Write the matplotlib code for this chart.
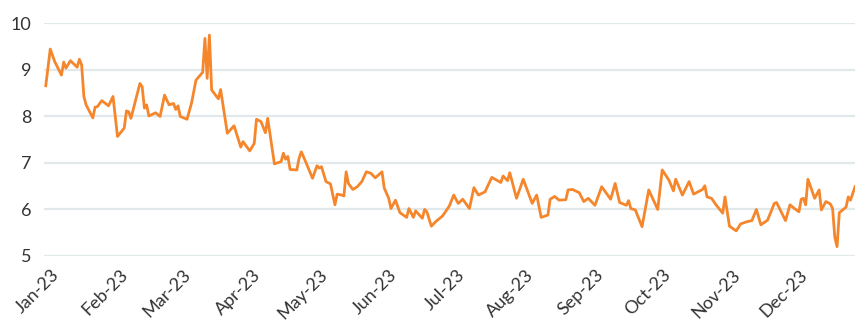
import matplotlib
matplotlib.use("Agg")
import matplotlib.pyplot as plt
import matplotlib.dates as mdates
import matplotlib.transforms as mtransforms
import pandas as pd

dates = [
    "2023-01-02", "2023-01-04", "2023-01-06", "2023-01-09", "2023-01-10", "2023-01-11",
    "2023-01-13", "2023-01-16", "2023-01-17", "2023-01-18", "2023-01-19", "2023-01-20",
    "2023-01-23", "2023-01-24", "2023-01-25", "2023-01-27", "2023-01-30", "2023-02-01",
    "2023-02-03", "2023-02-06", "2023-02-07", "2023-02-08", "2023-02-09", "2023-02-13",
    "2023-02-14", "2023-02-15", "2023-02-16", "2023-02-17", "2023-02-20", "2023-02-22",
    "2023-02-24", "2023-02-26", "2023-02-28", "2023-03-01", "2023-03-02", "2023-03-03",
    "2023-03-06", "2023-03-08", "2023-03-10", "2023-03-13", "2023-03-14", "2023-03-15",
    "2023-03-16", "2023-03-17", "2023-03-20", "2023-03-21", "2023-03-24", "2023-03-27",
    "2023-03-30", "2023-03-31", "2023-04-03", "2023-04-05", "2023-04-06", "2023-04-08",
    "2023-04-10", "2023-04-11", "2023-04-14", "2023-04-17", "2023-04-18", "2023-04-19",
    "2023-04-20", "2023-04-21", "2023-04-24", "2023-04-25", "2023-04-26", "2023-04-28",
    "2023-05-01", "2023-05-03", "2023-05-04", "2023-05-05", "2023-05-07", "2023-05-09",
    "2023-05-11", "2023-05-12", "2023-05-14", "2023-05-15", "2023-05-16", "2023-05-17",
    "2023-05-19", "2023-05-21", "2023-05-23", "2023-05-25", "2023-05-27", "2023-05-29",
    "2023-06-01", "2023-06-02", "2023-06-04", "2023-06-05", "2023-06-07", "2023-06-09",
    "2023-06-12", "2023-06-13", "2023-06-15", "2023-06-16", "2023-06-19", "2023-06-20",
    "2023-06-21", "2023-06-23", "2023-06-25", "2023-06-28", "2023-07-01", "2023-07-03",
    "2023-07-05", "2023-07-07", "2023-07-10", "2023-07-12", "2023-07-14", "2023-07-17",
    "2023-07-18", "2023-07-20", "2023-07-24", "2023-07-25", "2023-07-27", "2023-07-28",
    "2023-07-31", "2023-08-03", "2023-08-07", "2023-08-09", "2023-08-11", "2023-08-14",
    "2023-08-15", "2023-08-17", "2023-08-19", "2023-08-22", "2023-08-23", "2023-08-25",
    "2023-08-28", "2023-08-30", "2023-09-01", "2023-09-04", "2023-09-07", "2023-09-11",
    "2023-09-13", "2023-09-15", "2023-09-18", "2023-09-19", "2023-09-20", "2023-09-22",
    "2023-09-25", "2023-09-28", "2023-10-02", "2023-10-04", "2023-10-07", "2023-10-09",
    "2023-10-10", "2023-10-13", "2023-10-16", "2023-10-18", "2023-10-22", "2023-10-23",
    "2023-10-24", "2023-10-26", "2023-10-28", "2023-10-31", "2023-11-01", "2023-11-03",
    "2023-11-06", "2023-11-08", "2023-11-11", "2023-11-13", "2023-11-15", "2023-11-17",
    "2023-11-20", "2023-11-23", "2023-11-24", "2023-11-28", "2023-11-30", "2023-12-02",
    "2023-12-04", "2023-12-05", "2023-12-06", "2023-12-07", "2023-12-08", "2023-12-11",
    "2023-12-13", "2023-12-14", "2023-12-16", "2023-12-18", "2023-12-19", "2023-12-20",
    "2023-12-21", "2023-12-22", "2023-12-25", "2023-12-26", "2023-12-27", "2023-12-29",
]

values = [
    8.66, 9.45, 9.18, 8.89, 9.17, 9.04,
    9.20, 9.06, 9.23, 9.11, 8.43, 8.25,
    7.97, 8.20, 8.21, 8.34, 8.23, 8.43,
    7.57, 7.75, 8.12, 8.10, 7.96, 8.71,
    8.64, 8.18, 8.25, 8.01, 8.08, 8.00,
    8.46, 8.25, 8.28, 8.15, 8.23, 8.00,
    7.94, 8.28, 8.78, 8.95, 9.68, 8.82,
    9.75, 8.57, 8.38, 8.58, 7.64, 7.80,
    7.34, 7.46, 7.26, 7.42, 7.94, 7.89,
    7.65, 7.96, 6.98, 7.03, 7.21, 7.08,
    7.14, 6.86, 6.85, 7.10, 7.24, 7.02,
    6.67, 6.94, 6.89, 6.92, 6.60, 6.55,
    6.10, 6.33, 6.31, 6.29, 6.81, 6.56,
    6.43, 6.49, 6.60, 6.81, 6.78, 6.68,
    6.81, 6.46, 6.24, 6.02, 6.20, 5.93,
    5.83, 6.02, 5.83, 5.97, 5.81, 6.00,
    5.95, 5.64, 5.74, 5.86, 6.07, 6.31,
    6.13, 6.22, 6.02, 6.47, 6.31, 6.38,
    6.49, 6.69, 6.58, 6.72, 6.62, 6.79,
    6.24, 6.65, 6.13, 6.31, 5.83, 5.88,
    6.22, 6.28, 6.20, 6.21, 6.42, 6.43,
    6.36, 6.17, 6.24, 6.09, 6.49, 6.22,
    6.56, 6.15, 6.09, 6.19, 6.02, 5.99,
    5.63, 6.42, 6.00, 6.85, 6.63, 6.40,
    6.65, 6.31, 6.60, 6.33, 6.43, 6.51,
    6.27, 6.24, 6.10, 5.92, 6.27, 5.64,
    5.54, 5.69, 5.74, 5.76, 6.00, 5.67,
    5.77, 6.13, 6.15, 5.76, 6.10, 6.02,
    5.95, 6.22, 6.24, 6.10, 6.65, 6.24,
    6.42, 5.99, 6.17, 6.12, 6.02, 5.40,
    5.20, 5.93, 6.05, 6.27, 6.20, 6.49,
]

y_ticks = [5, 6, 7, 8, 9, 10]

plt.rcParams["font.family"] = ["Lato", "DejaVu Sans"]

x = pd.to_datetime(dates)

fig = plt.figure(figsize=(8.55, 3.24), dpi=100)
ax = fig.add_axes([0.0509, 0.21, 0.9491, 0.7175])

ax.plot(x, values, color="#f5862c", linewidth=2.0, solid_joinstyle="round", zorder=3, clip_on=False)

ax.set_ylim(5, 10)
ax.set_yticks(y_ticks)
ax.set_xlim(pd.Timestamp("2023-01-01"), x[-1])
ax.xaxis.set_major_locator(mdates.MonthLocator())
ax.xaxis.set_major_formatter(mdates.DateFormatter("%b-%y"))

ax.grid(axis="y", color="#e2e9eb", linewidth=1.6, zorder=0)
ax.grid(axis="x", visible=False)
for s in ax.spines.values():
    s.set_visible(False)
ax.tick_params(axis="both", length=0, labelsize=13, colors="#333333")
ax.tick_params(axis="y", pad=9)
ax.tick_params(axis="x", pad=4)

offset = mtransforms.ScaledTranslation(0.07, -0.05, fig.dpi_scale_trans)
for lbl in ax.get_xticklabels():
    lbl.set_rotation(45)
    lbl.set_ha("right")
    lbl.set_va("top")
    lbl.set_rotation_mode("anchor")
    lbl.set_transform(lbl.get_transform() + offset)

fig.savefig("out.png", dpi=100)
